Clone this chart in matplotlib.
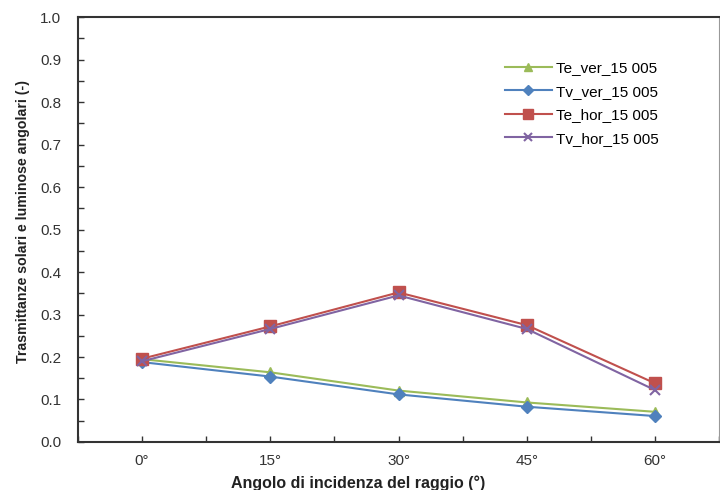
import numpy as np
import matplotlib.pyplot as plt
from matplotlib.ticker import MultipleLocator

plt.rcParams['font.family'] = ['Liberation Sans', 'DejaVu Sans']

# dati
angoli = ['0°', '15°', '30°', '45°', '60°']
te_ver = [0.195, 0.164, 0.121, 0.093, 0.071]
tv_ver = [0.188, 0.154, 0.112, 0.083, 0.061]
te_hor = [0.196, 0.272, 0.352, 0.275, 0.138]
tv_hor = [0.190, 0.266, 0.345, 0.266, 0.122]

x = np.arange(len(angoli))

fig = plt.figure(figsize=(7.2, 4.9), dpi=100)
ax = fig.add_axes([0.108, 0.098, 0.891, 0.867])

ax.plot(x, te_ver, color='#9BBB59', marker='^', markersize=6.5, lw=1.5, label='Te_ver_15 005')
ax.plot(x, tv_ver, color='#4F81BD', marker='D', markersize=6, lw=1.5, label='Tv_ver_15 005')
ax.plot(x, te_hor, color='#C0504D', marker='s', markersize=8.5, lw=1.5, label='Te_hor_15 005')
ax.plot(x, tv_hor, color='#8064A2', marker='x', markersize=7, mew=1.5, lw=1.5, label='Tv_hor_15 005')

ax.set_xlim(-0.5, len(angoli) - 0.5)
ax.set_ylim(0, 1.0)
ax.set_xticks(x)
ax.set_xticklabels(angoli)
ax.xaxis.set_minor_locator(MultipleLocator(0.5))
ax.yaxis.set_major_locator(MultipleLocator(0.1))
ax.yaxis.set_minor_locator(MultipleLocator(0.05))
ax.yaxis.set_major_formatter(plt.FormatStrFormatter('%.1f'))
ax.tick_params(which='both', direction='in', length=4, width=1, colors='#333333',
               labelsize=11, labelcolor='#333333')
ax.tick_params(axis='x', pad=9)
ax.tick_params(axis='y', pad=12)
ax.tick_params(top=False, right=False)

for s in ['left', 'bottom', 'top']:
    ax.spines[s].set_color('#333333')
    ax.spines[s].set_linewidth(1.5)
ax.spines['right'].set_color('#999999')

ax.set_xlabel('Angolo di incidenza del raggio (°)', fontsize=11.5, fontweight='bold', color='#222222', labelpad=2)
ax.xaxis.set_label_coords(0.437, -0.078)
ax.set_ylabel('Trasmittanze solari e luminose angolari (-)', fontsize=10.2, fontweight='bold', color='#222222', labelpad=6)
ax.yaxis.set_label_coords(-0.075, 0.52)

fig.legend(loc='upper left', bbox_to_anchor=(0.701, 0.875), frameon=False, fontsize=11,
           handlelength=3.1, handletextpad=0.25, labelspacing=0.62, borderpad=0, borderaxespad=0,
           markerscale=0.8)

fig.savefig('out.png')
